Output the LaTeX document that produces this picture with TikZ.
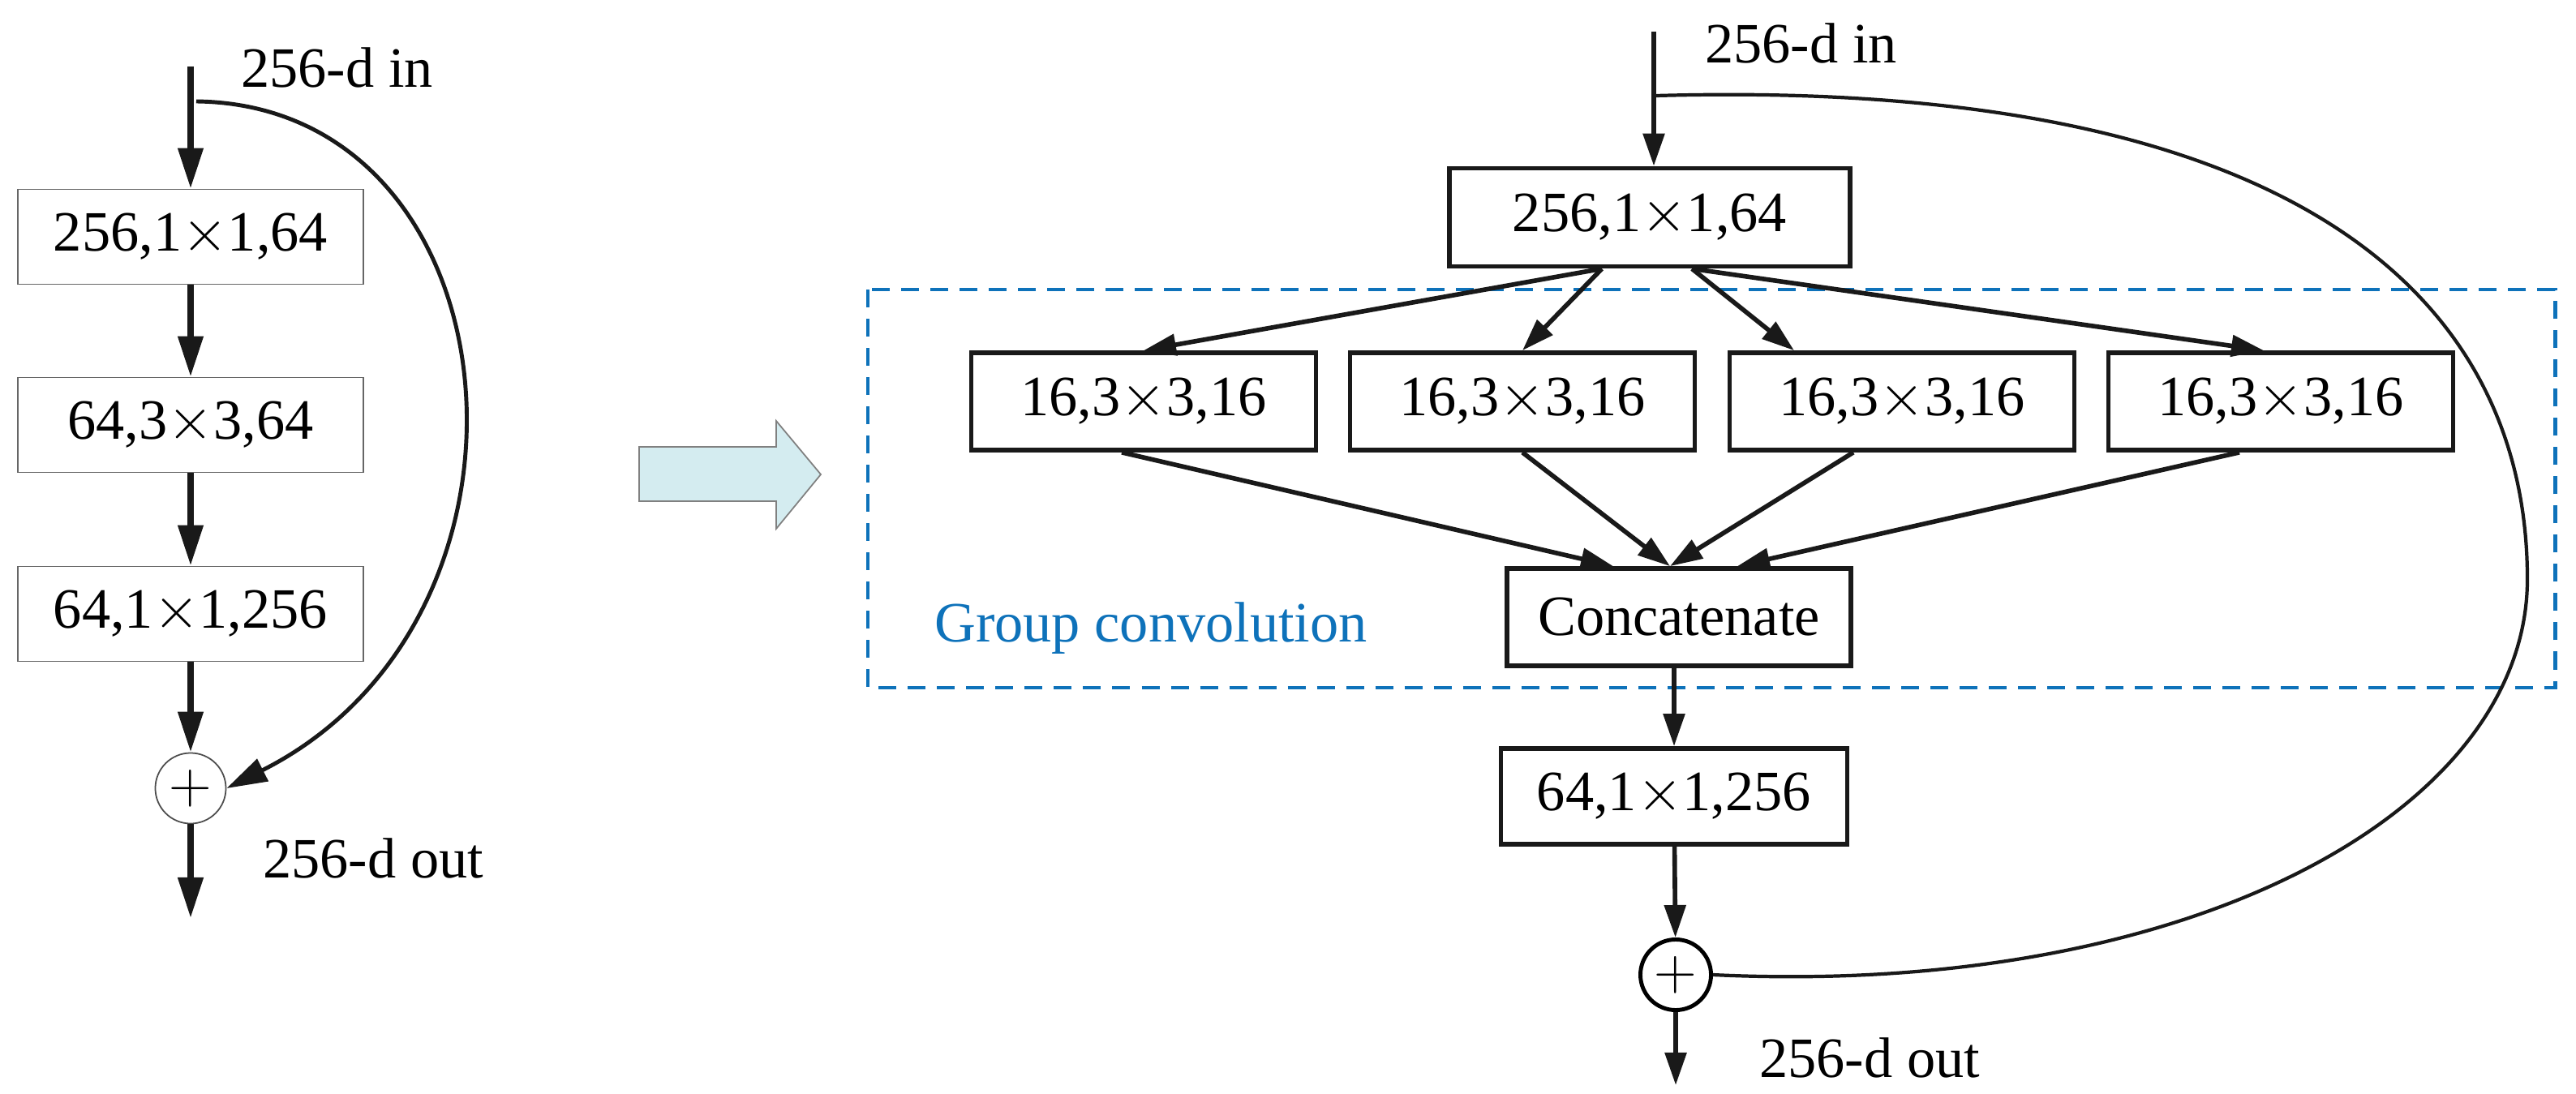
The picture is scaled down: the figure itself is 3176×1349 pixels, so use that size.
\documentclass[tikz,border=0pt]{standalone}
\usepackage{fontspec}
\setmainfont{Liberation Serif}
\usetikzlibrary{calc,arrows.meta}
\definecolor{gcblue}{RGB}{14,114,186}
\definecolor{arrowfill}{RGB}{212,236,240}
\begin{document}
\begin{tikzpicture}[x=0.01cm,y=-0.01cm,
	font=\fontsize{20}{24}\selectfont,
	tip/.style={-{Triangle[length=0.5cm,width=0.3cm]}},
	tipr/.style={-{Triangle[length=0.4cm,width=0.26cm]}},
	lbox/.style={draw=black!60,line width=0.5pt,minimum width=4.25cm,minimum height=1.17cm,inner sep=0pt},
	rbox/.style={draw=black!90,line width=1.6pt,minimum height=1.2cm,inner sep=0pt},
	plus/.style={circle,draw,minimum size=0.87cm,inner sep=0pt}]
	
	\useasboundingbox (0,0) rectangle (3176,1349);
	
	%--- Left block ---
	\coordinate (lin) at (235,82);
	\node[lbox] (l1) at (235,292) {256,1$\times$1,64};
	\node[lbox] (l2) at (235,524) {64,3$\times$3,64};
	\node[lbox] (l3) at (235,757) {64,1$\times$1,256};
	\node[plus,draw=black!70,line width=0.5pt] (lsum) at (235,972) {$+$};
	\coordinate (lout) at (235,1132);
	\node[anchor=west] (lintext) at (285,83) {256-d in};
	\node[anchor=west] (louttext) at (312,1058) {256-d out};
	
	\begin{scope}[line width=2.2pt,black!90]
		\draw[tip] (lin) -- (l1.north);
		\draw[tip] (l1) -- (l2);
		\draw[tip] (l2) -- (l3);
		\draw[tip] (l3) -- (lsum);
		\draw[tip] (lsum) -- (lout);
	\end{scope}
	\draw[line width=1.4pt,black!90,tip] (242,125) .. controls (640,130) and (700,760) .. (lsum.east);
	
	%--- Big arrow ---
	\draw[black!50,line width=0.5pt,fill=arrowfill]
		(788,551) -- (957,551) -- (957,519) -- (1012,585) -- (957,652) -- (957,618) -- (788,618) -- cycle;
	
	%--- Right block ---
	\draw[gcblue,line width=1.4pt,dash pattern=on 0.22cm off 0.14cm] (1070,357) rectangle (3150,848);
	\node[gcblue,anchor=west] (gctext) at (1140,775) {Group convolution};
	
	\coordinate (rin) at (2039,39);
	\node[rbox,minimum width=4.94cm,minimum height=1.21cm] (top) at (2034,268) {256,1$\times$1,64};
	\foreach \i/\x in {1/1410,2/1877,3/2345,4/2812}
		\node[rbox,minimum width=4.25cm] (g\i) at (\x,495) {16,3$\times$3,16};
	\node[rbox,minimum width=4.24cm] (cat) at (2070,761) {Concatenate};
	\node[rbox,minimum width=4.27cm,minimum height=1.18cm] (bot) at (2064,982) {64,1$\times$1,256};
	\node[plus,line width=1.4pt] (rsum) at (2066,1202) {$+$};
	\coordinate (rout) at (2066,1338);
	\node[anchor=west] (rintext) at (2090,53) {256-d in};
	\node[anchor=west] (routtext) at (2157,1304) {256-d out};
	
	\begin{scope}[line width=1.6pt,black!90]
		\draw[tipr] (rin) -- (rin |- top.north);
		\draw[tipr] ($(top.south)+(-59,0)$) -- (g1.north);
		\draw[tipr] ($(top.south)+(-59,0)$) -- (g2.north);
		\draw[tipr] ($(top.south)+(52,0)$) -- ($(g3.north)+(-133,0)$);
		\draw[tipr] ($(top.south)+(52,0)$) -- ($(g4.north)+(-21,0)$);
		\draw[tipr] ($(g1.south)+(-27,0)$) -- ($(cat.north)+(-81,0)$);
		\draw[tipr] (g2.south) -- ($(cat.north)+(-11,0)$);
		\draw[tipr] ($(g3.south)+(-60,0)$) -- ($(cat.north)+(-11,0)$);
		\draw[tipr] ($(g4.south)+(-51,0)$) -- ($(cat.north)+(72,0)$);
		\draw[tipr] (cat.south -| bot.north) -- (bot.north);
		\draw[tipr] (bot) -- (rsum);
		\draw[tipr] (rsum) -- (rout);
	\end{scope}
	\draw[line width=1.2pt,black!90] (2042,118) .. controls (2850,95) and (3116,380) .. (3116,714)
		.. controls (3116,1000) and (2700,1230) .. (rsum.east);
	
\end{tikzpicture}
\end{document}
